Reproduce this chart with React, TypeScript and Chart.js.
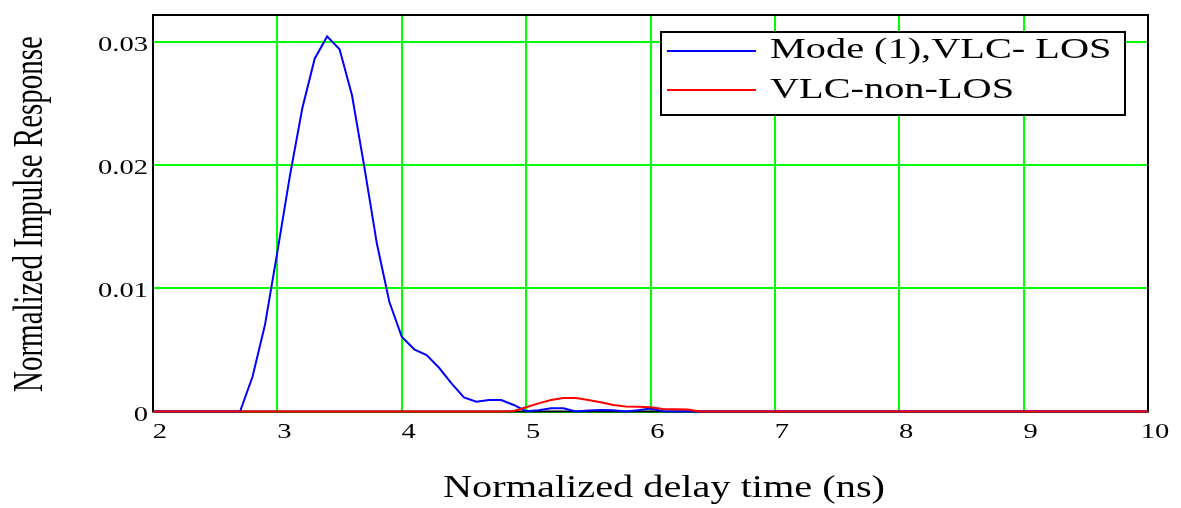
import React, { useEffect, useRef } from "react";
import { Chart, registerables } from "chart.js";

Chart.register(...registerables);

const X_TICKS = [2, 3, 4, 5, 6, 7, 8, 9, 10];
const Y_TICKS = [0, 0.01, 0.02, 0.03];
const Y_TICK_LABELS = ["0", "0.01", "0.02", "0.03"];

const BLUE_X = [2, 2.7, 2.8, 2.9, 3.0, 3.1, 3.2, 3.3, 3.4, 3.5, 3.6, 3.7, 3.8, 3.9, 4.0, 4.1, 4.2, 4.3, 4.4, 4.5, 4.6, 4.7, 4.8, 4.9, 5.0, 5.1, 5.2, 5.3, 5.4, 5.5, 5.6, 5.7, 5.8, 5.9, 6.0, 6.1, 6.2, 10];
const BLUE_Y = [0, 0, 0.00282, 0.00702, 0.01296, 0.0191, 0.0246, 0.02865, 0.03046, 0.02941, 0.02568, 0.0198, 0.01364, 0.00891, 0.00607, 0.00505, 0.00458, 0.00355, 0.00229, 0.00115, 0.0008, 0.00093, 0.00093, 0.00053, 0.00003, 0.0001, 0.00027, 0.00027, 0, 0.00008, 0.00012, 0.0001, 0, 0.0001, 0.00025, 0.00003, 0, 0];

const RED_X = [2, 4.8, 4.9, 5.0, 5.1, 5.2, 5.3, 5.4, 5.5, 5.6, 5.7, 5.8, 5.9, 6.0, 6.1, 6.2, 6.3, 6.4, 10];
const RED_Y = [0, 0, 0.00005, 0.00035, 0.00066, 0.00093, 0.0011, 0.0011, 0.00093, 0.00075, 0.00053, 0.0004, 0.00038, 0.00035, 0.0002, 0.00018, 0.00017, 0, 0];

const BLUE_LABEL = "Mode (1),VLC- LOS";
const RED_LABEL = "VLC-non-LOS";
const X_TITLE = "Normalized delay time (ns)";
const Y_TITLE = "Normalized Impulse Response";

const FONT = '"Liberation Serif", "Times New Roman", serif';

function drawText(
  ctx: CanvasRenderingContext2D,
  text: string,
  x: number,
  y: number,
  size: number,
  sx: number,
  align: CanvasTextAlign,
  rotate = false
) {
  ctx.save();
  ctx.translate(x, y);
  ctx.scale(sx, 1);
  if (rotate) ctx.rotate(-Math.PI / 2);
  ctx.font = `${size}px ${FONT}`;
  ctx.fillStyle = "#000";
  ctx.textAlign = align;
  ctx.textBaseline = "alphabetic";
  ctx.fillText(text, 0, 0);
  ctx.restore();
}

const framePlugin = {
  id: "framePlugin",
  beforeDatasetsDraw(chart: any) {
    const { ctx, chartArea } = chart;
    ctx.save();
    ctx.strokeStyle = "#000";
    ctx.lineWidth = 2;
    ctx.strokeRect(chartArea.left, chartArea.top, chartArea.right - chartArea.left, chartArea.bottom - chartArea.top);
    ctx.restore();
  },
  afterDraw(chart: any) {
    const { ctx, chartArea, scales } = chart;
    const xs = scales.x;
    const ys = scales.y;
    // x tick labels
    X_TICKS.forEach((v) => {
      drawText(ctx, String(v), xs.getPixelForValue(v) + 7, chartArea.bottom + 26.5, 21, 1.36, "center");
    });
    // y tick labels
    Y_TICKS.forEach((v, i) => {
      drawText(ctx, Y_TICK_LABELS[i], chartArea.left - 5, ys.getPixelForValue(v) + 9, 21, 1.36, "right");
    });
    // axis titles
    drawText(ctx, X_TITLE, 664, 497, 31, 1.3, "center");
    drawText(ctx, Y_TITLE, 42, 214, 29, 1.45, "center", true);

    // legend
    const bx = chartArea.right - 487;
    const by = chartArea.top + 17;
    ctx.save();
    ctx.fillStyle = "#fff";
    ctx.fillRect(bx, by, 464, 83);
    ctx.strokeStyle = "#000";
    ctx.lineWidth = 2;
    ctx.strokeRect(bx, by, 464, 83);
    ctx.lineWidth = 2;
    ctx.strokeStyle = "#0000ff";
    ctx.beginPath();
    ctx.moveTo(bx + 6, by + 19);
    ctx.lineTo(bx + 95, by + 19);
    ctx.stroke();
    ctx.strokeStyle = "#ff0000";
    ctx.beginPath();
    ctx.moveTo(bx + 6, by + 58);
    ctx.lineTo(bx + 95, by + 58);
    ctx.stroke();
    ctx.restore();
    drawText(ctx, BLUE_LABEL, bx + 109, by + 26, 29, 1.39, "left");
    drawText(ctx, RED_LABEL, bx + 109, by + 66, 29, 1.39, "left");
  },
};

export default function App() {
  const ref = useRef<HTMLCanvasElement | null>(null);
  useEffect(() => {
    if (!ref.current) return;
    const chart = new Chart(ref.current, {
      type: "line",
      data: {
        datasets: [
          {
            label: RED_LABEL,
            data: RED_X.map((x, i) => ({ x, y: RED_Y[i] })),
            borderColor: "#ff0000",
            borderWidth: 2,
            pointRadius: 0,
            tension: 0,
            fill: false,
            order: 0,
            clip: 4,
          },
          {
            label: BLUE_LABEL,
            data: BLUE_X.map((x, i) => ({ x, y: BLUE_Y[i] })),
            borderColor: "#0000ff",
            borderWidth: 2,
            pointRadius: 0,
            tension: 0,
            fill: false,
            order: 1,
            clip: 4,
          },
        ],
      },
      options: {
        responsive: false,
        animation: false,
        layout: { padding: { top: 15, right: 33, left: 0, bottom: 0 } },
        plugins: {
          legend: { display: false },
          tooltip: { enabled: false },
        },
        scales: {
          x: {
            type: "linear",
            min: 2,
            max: 10,
            ticks: { stepSize: 1, display: false },
            grid: { color: "#00ff00", lineWidth: 2, drawTicks: false },
            border: { display: false },
            afterFit: (s: any) => {
              s.height = 96.5;
            },
          },
          y: {
            type: "linear",
            min: 0,
            max: 0.0322,
            ticks: { stepSize: 0.01, display: false, includeBounds: false },
            grid: { color: "#00ff00", lineWidth: 2, drawTicks: false },
            border: { display: false },
            afterFit: (s: any) => {
              s.width = 153;
            },
          },
        },
      },
      plugins: [framePlugin],
    } as any);
    return () => chart.destroy();
  }, []);
  return (
    <div style={{ position: "fixed", left: 0, top: 0, width: 1181, height: 508, background: "#fff" }}>
      <canvas ref={ref} width={1181} height={508} />
    </div>
  );
}
